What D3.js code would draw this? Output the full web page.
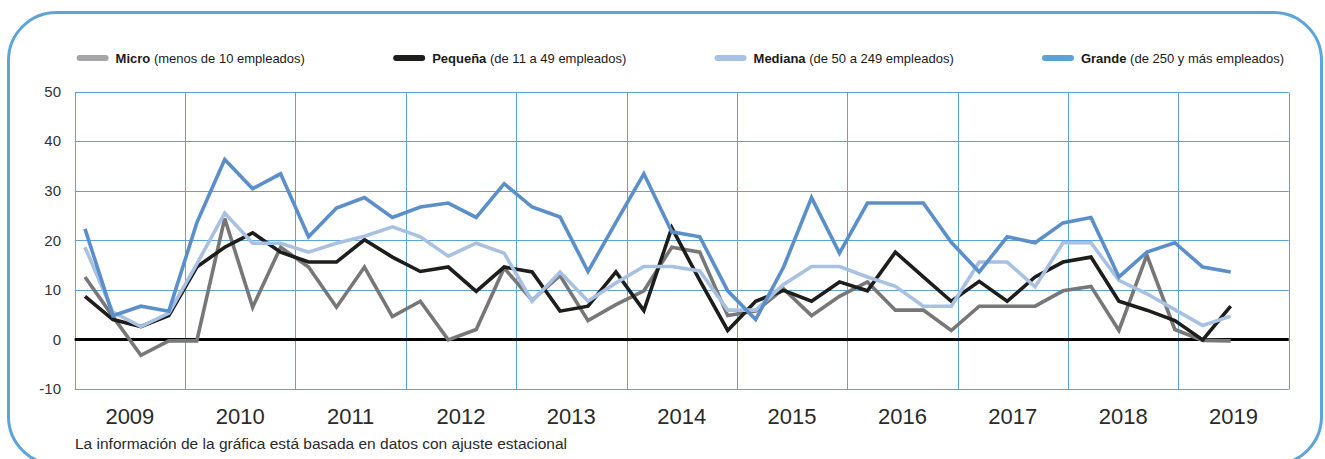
<!DOCTYPE html>
<html><head><meta charset="utf-8">
<script src="https://cdn.jsdelivr.net/npm/d3@7"></script>
<style>
html,body{margin:0;padding:0;background:#fff;}
svg{display:block;font-family:"Liberation Sans",Arial,Helvetica,sans-serif;}
</style></head><body>
<svg id="chart" width="1325" height="459"></svg>
<script>
// ---- data ----
const years = [2009, 2010, 2011, 2012, 2013, 2014, 2015, 2016, 2017, 2018, 2019];
const quarters = years.flatMap(y => ["T1", "T2", "T3", "T4"].map(q => y + q)).slice(0, 42);
const micro   = [12.6, 4.6, -3.2, -0.3, -0.3, 24.4, 6.5, 18.6, 14.6, 6.5, 14.6, 4.6, 7.7, -0.1, 2.0, 14.4, 7.9, 12.9, 3.8, 7.0, 9.8, 18.6, 17.6, 4.8, 5.7, 10.2, 4.8, 8.7, 11.6, 5.9, 5.9, 1.8, 6.7, 6.7, 6.7, 9.8, 10.7, 1.8, 17.0, 2.0, -0.2, -0.3];
const pequena = [8.7, 4.0, 2.6, 4.8, 14.6, 18.6, 21.5, 17.6, 15.6, 15.6, 20.1, 16.6, 13.7, 14.6, 9.7, 14.6, 13.6, 5.7, 6.7, 13.6, 5.8, 22.5, 11.9, 1.8, 7.7, 9.9, 7.7, 11.6, 9.8, 17.6, 12.6, 7.7, 11.7, 7.7, 12.6, 15.6, 16.6, 7.7, 5.9, 3.8, -0.1, 6.7];
const mediana = [18.6, 5.5, 2.6, 5.3, 15.2, 25.5, 19.4, 19.4, 17.6, 19.4, 20.8, 22.7, 20.7, 16.8, 19.4, 17.4, 7.7, 13.6, 7.7, 11.4, 14.7, 14.7, 13.8, 5.9, 5.9, 11.1, 14.7, 14.7, 12.6, 10.7, 6.7, 6.7, 15.6, 15.6, 10.6, 19.5, 19.5, 11.9, 9.2, 6.0, 2.8, 4.7];
const grande  = [22.3, 4.8, 6.7, 5.7, 23.5, 36.3, 30.4, 33.4, 20.7, 26.5, 28.6, 24.6, 26.7, 27.5, 24.6, 31.4, 26.7, 24.7, 13.7, 23.6, 33.4, 21.7, 20.7, 9.8, 4.0, 14.6, 28.6, 17.4, 27.5, 27.5, 27.5, 19.6, 13.6, 20.7, 19.5, 23.5, 24.6, 12.6, 17.6, 19.5, 14.6, 13.6];
const yTicks = [-10, 0, 10, 20, 30, 40, 50];
const seriesNames = ["Micro", "Pequeña", "Mediana", "Grande"];
const seriesNotes = ["(menos de 10 empleados)", "(de 11 a 49 empleados)", "(de 50 a 249 empleados)", "(de 250 y más empleados)"];
const footnote = "La información de la gráfica está basada en datos con ajuste estacional";

// ---- styles ----
const lineColors = ["#787778", "#1d1d1b", "#a8c1e2", "#5b8fca"];
const swatchColors = ["#a5a5a7", "#1d1d1b", "#a9c2e3", "#5aa3da"];
const gridColor = "#5ba3d9";

const svg = d3.select("#chart");

// frame
svg.append("rect")
  .attr("x", 8.5).attr("y", 12.5).attr("width", 1313).attr("height", 452)
  .attr("rx", 48).attr("ry", 48)
  .attr("fill", "none").attr("stroke", "#5ca4da").attr("stroke-width", 3);

const L = 74.7, R = 1288.7, T = 91.5, B = 389;
const y = d3.scaleLinear().domain([-10, 50]).range([B, T]);
const yearX = d3.scaleLinear().domain([2009, 2020]).range([L, R]);
const x = d3.scalePoint().domain(quarters).range([85, 1230.7]);

// horizontal grid
svg.append("g").selectAll("line").data(yTicks).join("line")
  .attr("x1", L).attr("x2", R)
  .attr("y1", d => Math.round(y(d)) + 0.5).attr("y2", d => Math.round(y(d)) + 0.5)
  .attr("stroke", gridColor).attr("stroke-width", 1);

// vertical grid
const bounds = years.concat([2020]);
svg.append("g").selectAll("line").data(bounds).join("line")
  .attr("x1", d => Math.round(yearX(d)) + 0.5).attr("x2", d => Math.round(yearX(d)) + 0.5)
  .attr("y1", Math.round(T) + 0.5).attr("y2", Math.round(B) + 0.5)
  .attr("stroke", gridColor).attr("stroke-width", 1);

// y tick labels
svg.append("g").selectAll("text").data(yTicks).join("text")
  .attr("x", 61).attr("y", d => y(d)).attr("dy", "0.36em")
  .attr("text-anchor", "end").attr("font-size", 15).attr("fill", "#333")
  .text(d => d);

// year labels
svg.append("g").selectAll("text").data(years).join("text")
  .attr("x", d => yearX(d + 0.5)).attr("y", 424)
  .attr("text-anchor", "middle").attr("font-size", 22).attr("fill", "#2a2a2a")
  .text(d => d);

// zero line
svg.append("line")
  .attr("x1", L).attr("x2", R).attr("y1", y(0)).attr("y2", y(0))
  .attr("stroke", "#000").attr("stroke-width", 3);

// series
const series = [micro, pequena, mediana, grande];
const line = d3.line().x((d, i) => x(quarters[i])).y(d => y(d));
svg.append("g").selectAll("path").data(series).join("path")
  .attr("d", d => line(d))
  .attr("fill", "none")
  .attr("stroke", (d, i) => lineColors[i])
  .attr("stroke-width", 3.6)
  .attr("stroke-linejoin", "miter")
  .attr("stroke-miterlimit", 3);

// legend
const legY = 58;
const items = svg.append("g").selectAll("g").data(seriesNames).join("g");
items.append("line")
  .attr("x1", 3).attr("x2", 29).attr("y1", legY).attr("y2", legY)
  .attr("stroke", (d, i) => swatchColors[i]).attr("stroke-width", 6)
  .attr("stroke-linecap", "round");
const lt = items.append("text")
  .attr("x", 39).attr("y", legY + 5).attr("font-size", 13).attr("fill", "#1a1a1a");
lt.append("tspan").attr("font-weight", "bold").text(d => d);
lt.append("tspan").text((d, i) => " " + seriesNotes[i]);
const widths = items.nodes().map(n => n.getBBox().width);
const startX = 76.6, endX = 1281;
const gap = (endX - startX - d3.sum(widths)) / (widths.length - 1);
let acc = startX;
items.attr("transform", (d, i) => {
  const t = `translate(${acc},0)`;
  acc += widths[i] + gap;
  return t;
});

// footnote
svg.append("text")
  .attr("x", 75).attr("y", 449).attr("font-size", 15.5).attr("fill", "#2a2a2a")
  .text(footnote);
</script>
</body></html>
